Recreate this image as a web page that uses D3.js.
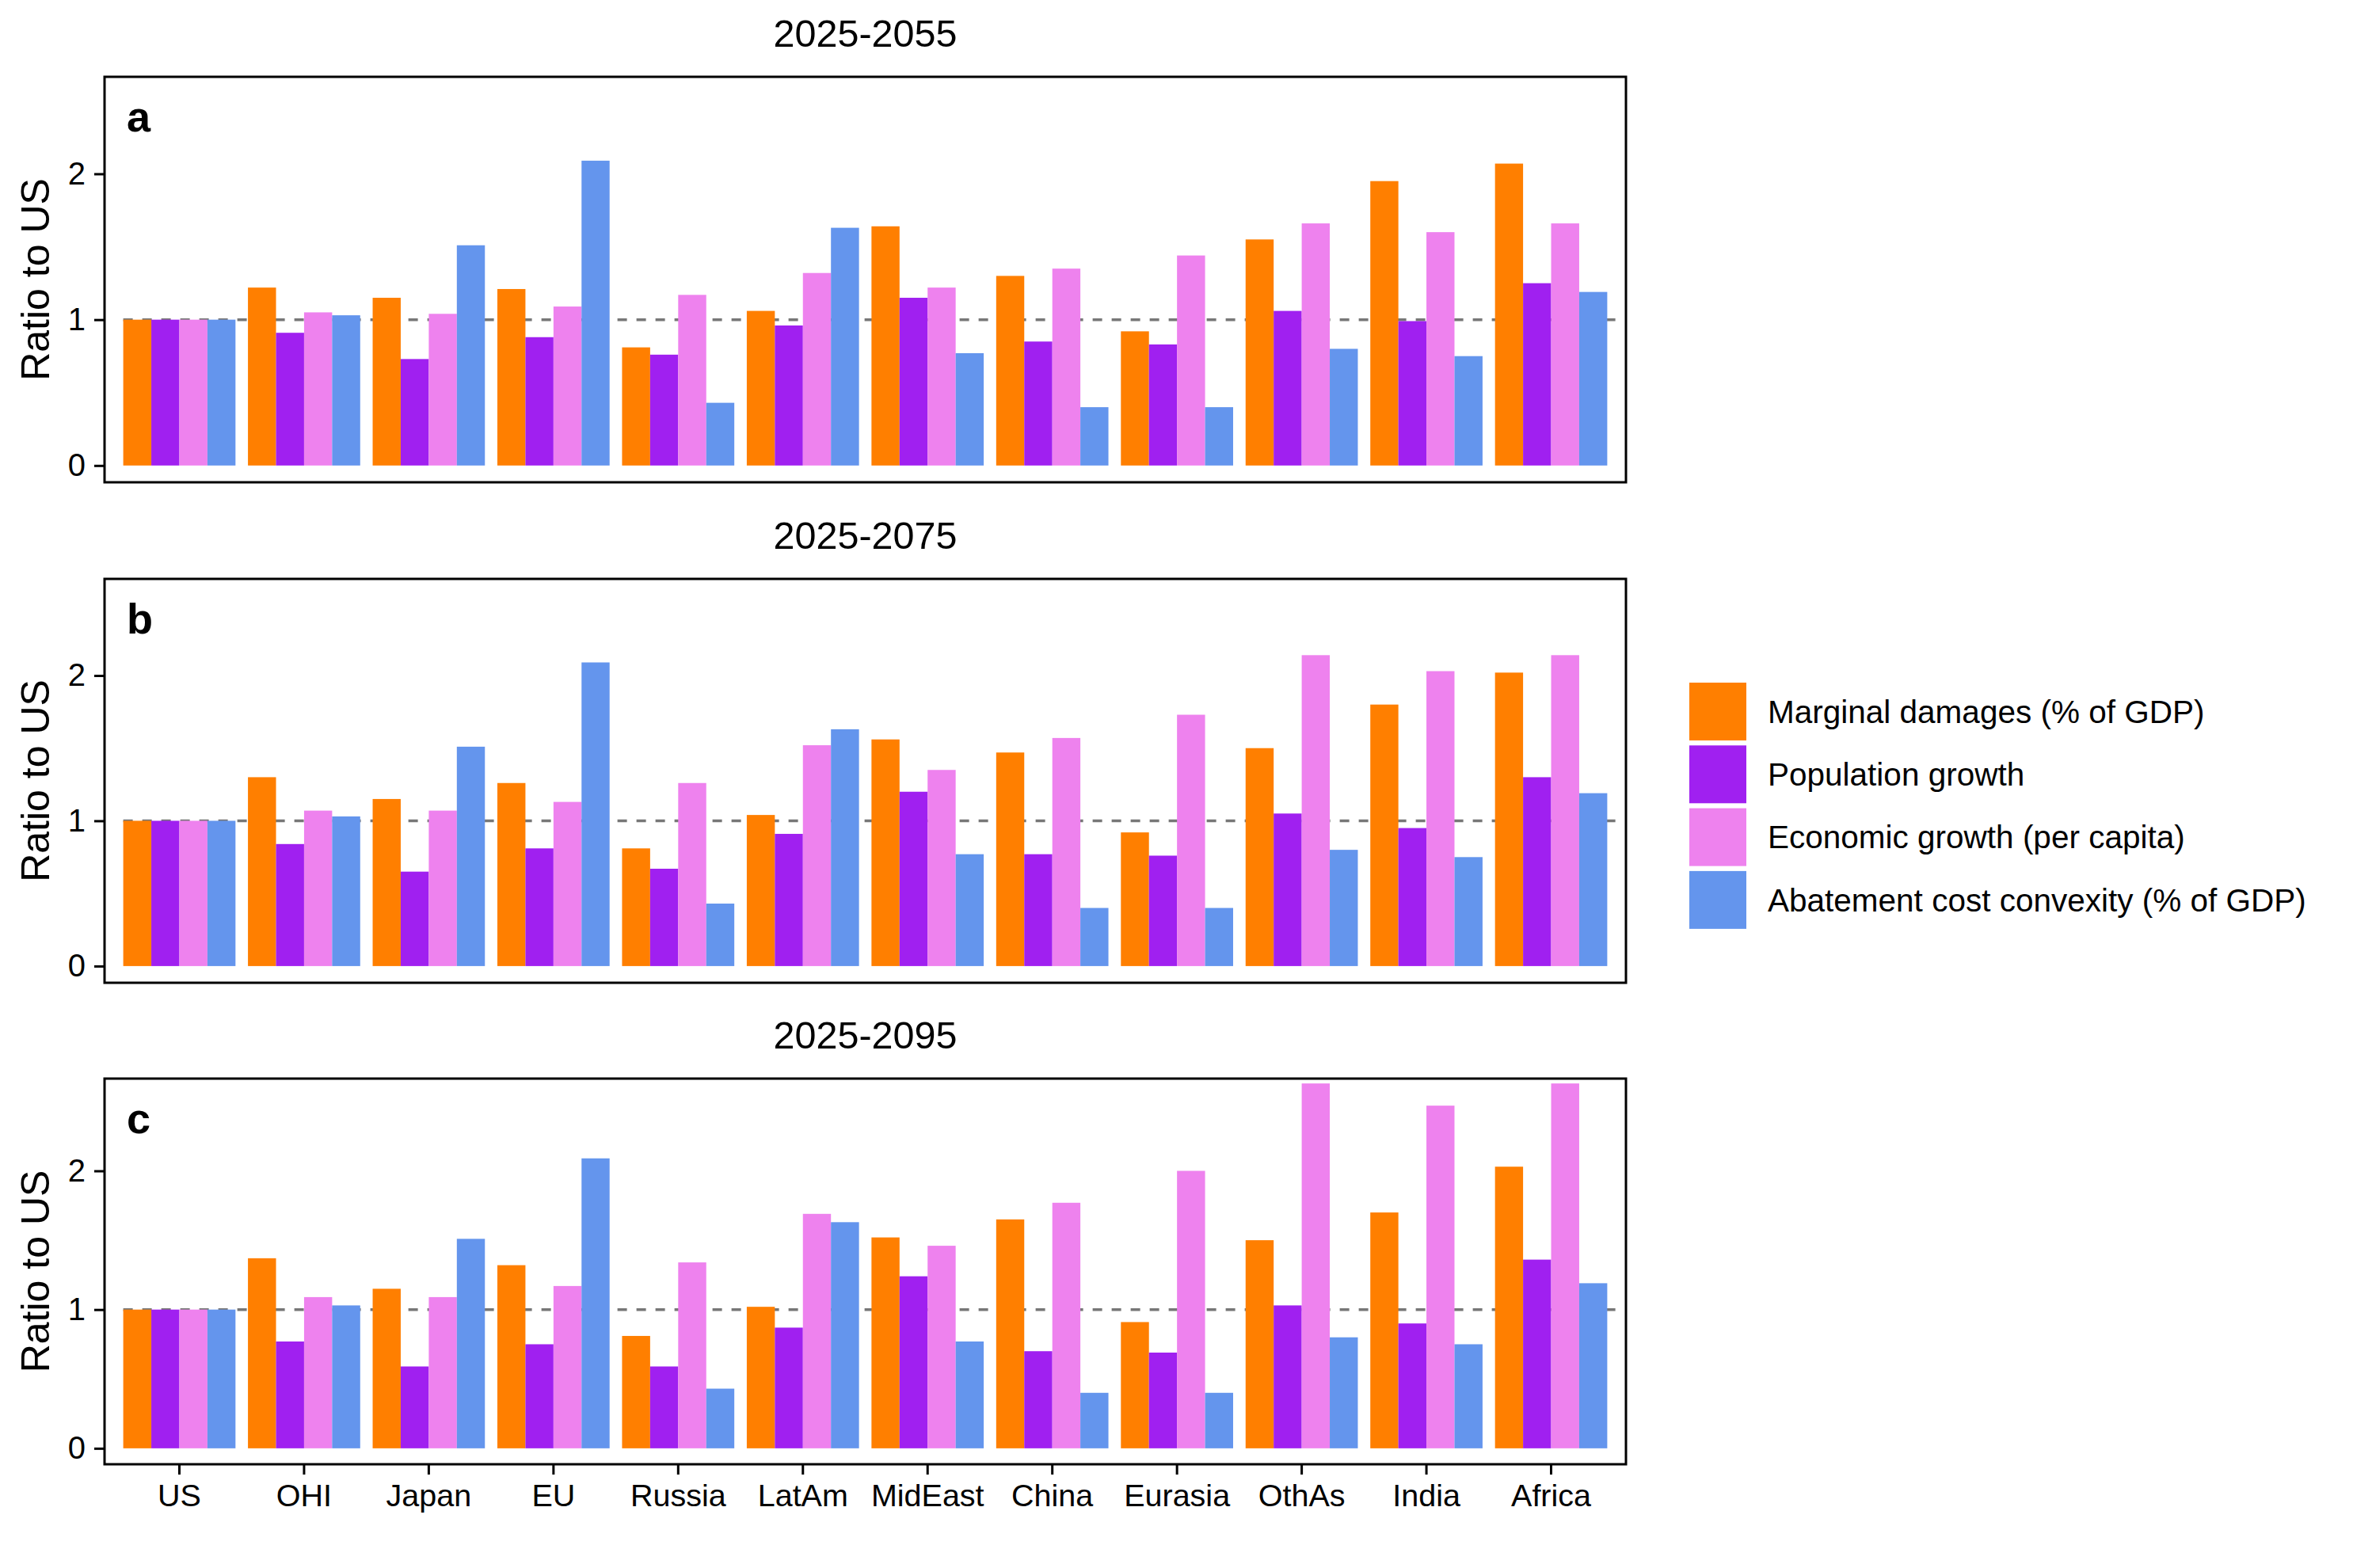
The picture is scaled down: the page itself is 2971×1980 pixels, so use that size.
<!DOCTYPE html>
<html>
<head>
<meta charset="utf-8">
<script src="https://cdn.jsdelivr.net/npm/d3@7"></script>
<style>
  body { margin: 0; background: #ffffff; }
  text { font-family: "Liberation Sans", Arial, sans-serif; fill: #000; }
</style>
</head>
<body>
<script>
// regions on the x axis
const regions = ["US", "OHI", "Japan", "EU", "Russia", "LatAm", "MidEast", "China", "Eurasia", "OthAs", "India", "Africa"];
const seriesNames = ["Marginal damages (% of GDP)", "Population growth", "Economic growth (per capita)", "Abatement cost convexity (% of GDP)"];
const seriesColors = ["#FF7F00", "#A020F0", "#EE82EE", "#6495ED"];
const periods = ["2025-2055", "2025-2075", "2025-2095"];
const panelLetters = ["a", "b", "c"];
const yTicks = [0, 1, 2];

// 2025-2055
const damages2055 = [1, 1.22, 1.15, 1.21, 0.81, 1.06, 1.64, 1.30, 0.92, 1.55, 1.95, 2.07];
const population2055 = [1, 0.91, 0.73, 0.88, 0.76, 0.96, 1.15, 0.85, 0.83, 1.06, 0.99, 1.25];
const economic2055 = [1, 1.05, 1.04, 1.09, 1.17, 1.32, 1.22, 1.35, 1.44, 1.66, 1.60, 1.66];
// 2025-2075
const damages2075 = [1, 1.30, 1.15, 1.26, 0.81, 1.04, 1.56, 1.47, 0.92, 1.50, 1.80, 2.02];
const population2075 = [1, 0.84, 0.65, 0.81, 0.67, 0.91, 1.20, 0.77, 0.76, 1.05, 0.95, 1.30];
const economic2075 = [1, 1.07, 1.07, 1.13, 1.26, 1.52, 1.35, 1.57, 1.73, 2.14, 2.03, 2.14];
// 2025-2095
const damages2095 = [1, 1.37, 1.15, 1.32, 0.81, 1.02, 1.52, 1.65, 0.91, 1.50, 1.70, 2.03];
const population2095 = [1, 0.77, 0.59, 0.75, 0.59, 0.87, 1.24, 0.70, 0.69, 1.03, 0.90, 1.36];
const economic2095 = [1, 1.09, 1.09, 1.17, 1.34, 1.69, 1.46, 1.77, 2.00, 2.63, 2.47, 2.63];
// same in every period
const abatement = [1, 1.03, 1.51, 2.09, 0.43, 1.63, 0.77, 0.40, 0.40, 0.80, 0.75, 1.19];

const panelSeries = [
    [damages2055, population2055, economic2055, abatement],
    [damages2075, population2075, economic2075, abatement],
    [damages2095, population2095, economic2095, abatement]
];

const width = 2971, height = 1980;
const plotLeft = 132, plotRight = 2053;
const panelBoxes = [
    {top: 97, bottom: 609},
    {top: 731, bottom: 1241},
    {top: 1362, bottom: 1849}
];

const svg = d3.select("body").append("svg")
    .attr("width", width)
    .attr("height", height);
svg.append("rect").attr("width", width).attr("height", height).style("fill", "#ffffff");

const x = d3.scaleBand()
    .domain(regions)
    .range([plotLeft, plotRight])
    .paddingInner(0.1)
    .paddingOuter(0.15);
const xInner = d3.scaleBand()
    .domain(seriesNames)
    .range([0, x.bandwidth()]);
const color = d3.scaleOrdinal().domain(seriesNames).range(seriesColors);

function drawPanel(i) {
    const box = panelBoxes[i];
    const y = d3.scaleLinear().domain([-0.115, 2.665]).range([box.bottom, box.top]);
    const g = svg.append("g").attr("id", "panel_" + panelLetters[i]);

    // title above the panel
    g.append("text")
        .attr("x", (plotLeft + plotRight) / 2)
        .attr("y", box.top - 38)
        .attr("text-anchor", "middle")
        .style("font-size", "48.5px")
        .text(periods[i]);

    // dashed reference line at 1, drawn under the bars
    const step = x.step();
    g.append("line")
        .attr("x1", x(regions[0]))
        .attr("x2", x(regions[regions.length - 1]) + x.bandwidth() + step * 0.1)
        .attr("y1", y(1))
        .attr("y2", y(1))
        .style("stroke", "#777777")
        .style("stroke-width", 3.5)
        .style("stroke-dasharray", "12,12");

    const rows = [];
    regions.forEach((r, k) => {
        seriesNames.forEach((s, j) => {
            rows.push({region: r, series: s, value: panelSeries[i][j][k]});
        });
    });

    g.selectAll("rect.bar")
        .data(rows)
        .enter()
        .append("rect")
        .attr("class", "bar")
        .attr("x", d => x(d.region) + xInner(d.series))
        .attr("width", xInner.bandwidth())
        .attr("y", d => y(d.value))
        .attr("height", d => y(0) - y(d.value))
        .style("fill", d => color(d.series));

    // panel border
    g.append("rect")
        .attr("x", plotLeft)
        .attr("y", box.top)
        .attr("width", plotRight - plotLeft)
        .attr("height", box.bottom - box.top)
        .style("fill", "none")
        .style("stroke", "#000")
        .style("stroke-width", 3);

    const yAxis = g.append("g")
        .attr("transform", `translate(${plotLeft},0)`)
        .call(d3.axisLeft(y).tickValues(yTicks).tickSize(13).tickPadding(11).tickFormat(d3.format("d")));
    yAxis.select(".domain").remove();
    yAxis.selectAll("line").style("stroke", "#000").style("stroke-width", 3);
    yAxis.selectAll("text").style("font-size", "40px").style("font-family", "Liberation Sans, Arial, sans-serif").style("fill", "#000");

    g.append("text")
        .attr("transform", `translate(44,${(box.top + box.bottom) / 2}) rotate(-90)`)
        .attr("text-anchor", "middle")
        .attr("dy", "0.35em")
        .style("font-size", "50px")
        .text("Ratio to US");

    g.append("text")
        .attr("x", 160)
        .attr("y", box.top + 69)
        .style("font-size", "54px")
        .style("font-weight", "bold")
        .text(panelLetters[i]);

    if (i === panelBoxes.length - 1) {
        const xAxis = g.append("g")
            .attr("transform", `translate(0,${box.bottom})`)
            .call(d3.axisBottom(x).tickSize(13).tickPadding(12));
        xAxis.select(".domain").remove();
        xAxis.selectAll("line").style("stroke", "#000").style("stroke-width", 3);
        xAxis.selectAll("text").style("font-size", "39.5px").style("font-family", "Liberation Sans, Arial, sans-serif").style("fill", "#000");
    }
}

panelBoxes.forEach((b, i) => drawPanel(i));

// legend
const legend = svg.append("g").attr("id", "legend");
const keyTop = 862, keyStep = 79.3;
seriesNames.forEach((s, j) => {
    legend.append("rect")
        .attr("x", 2133)
        .attr("y", keyTop + j * keyStep)
        .attr("width", 72)
        .attr("height", 73)
        .style("fill", color(s));
    legend.append("text")
        .attr("x", 2232)
        .attr("y", keyTop + j * keyStep + 36.5)
        .attr("dy", "0.35em")
        .style("font-size", "40.5px")
        .text(s);
});
</script>
</body>
</html>
